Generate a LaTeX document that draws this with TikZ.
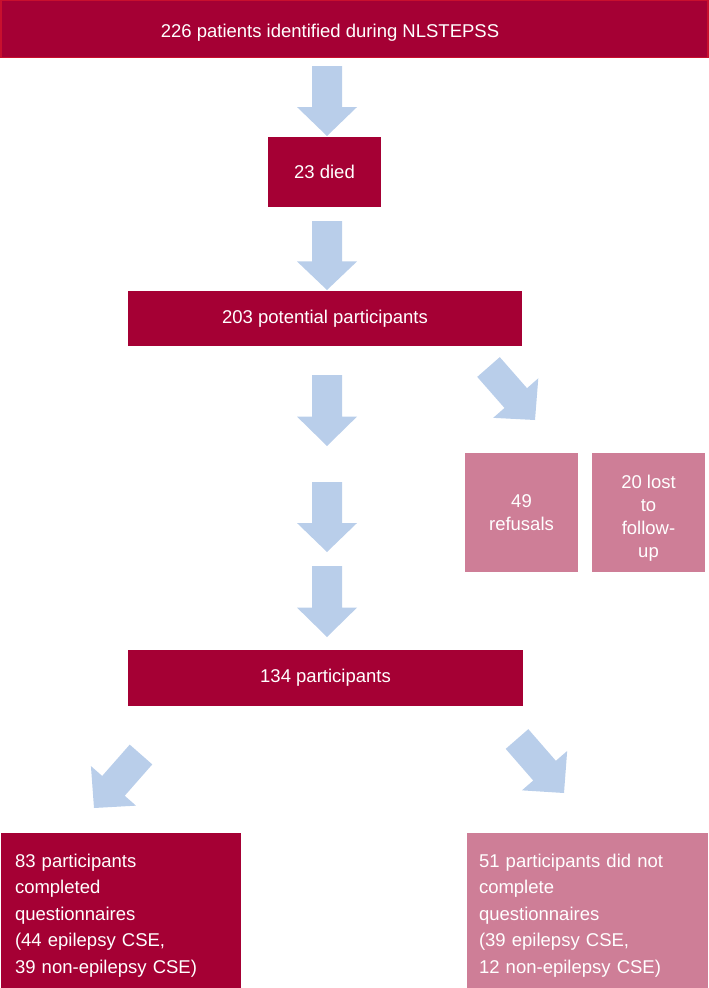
\documentclass[tikz,border=0pt]{standalone}
\usepackage{fontspec}
\setmainfont{Liberation Sans}
\usetikzlibrary{calc}
\definecolor{darkred}{RGB}{165,0,52}
\definecolor{edgered}{RGB}{200,16,46}
\definecolor{pinkc}{RGB}{206,126,151}
\definecolor{arrowblue}{RGB}{185,206,234}
\newcommand{\blockarrow}[2]{%
  \coordinate (hj) at ($(#1)!0.586!(#2)$);
  \fill[arrowblue] ($(#1)!15pt!90:(#2)$) -- ($(hj)!15pt!90:(#2)$) -- ($(hj)!30pt!90:(#2)$) -- (#2)
    -- ($(hj)!30pt!-90:(#2)$) -- ($(hj)!15pt!-90:(#2)$) -- ($(#1)!15pt!-90:(#2)$) -- cycle;}
\begin{document}
\begin{tikzpicture}[x=1pt,y=-1pt,
  every node/.style={inner sep=0pt, outer sep=0pt},
  redbox/.style={fill=darkred, text=white, font=\fontsize{18.5}{26.5}\selectfont, align=center},
  pinkbox/.style={fill=pinkc, text=white, font=\fontsize{18.5}{23}\selectfont, align=center},
  listbox/.style={font=\fontsize{18.5}{26.5}\selectfont, text=white, align=left}]
\useasboundingbox (0,0) rectangle (709,988);

% boxes
\node[redbox, draw=edgered, line width=1.2pt, minimum width=707pt, minimum height=57pt] (top) at (354.5,29) {\hspace*{-49pt}\rule{0pt}{21.5pt}226 patients identified during NLSTEPSS};
\node[redbox, minimum width=113pt, minimum height=70pt] (died) at (324.5,172) {23 died};
\node[redbox, minimum width=394pt, minimum height=55pt] (pot) at (325,318.5) {203 potential participants};
\node[pinkbox, minimum width=113pt, minimum height=119pt] (ref) at (521.5,512.5) {49\\refusals};
\node[pinkbox, minimum width=113pt, minimum height=119pt] (lost) at (648.5,512.5) {\rule{0pt}{25pt}20 lost\\to\\follow-\\up};
\node[redbox, minimum width=395pt, minimum height=56pt] (part) at (325.5,678) {134 participants};
\node[listbox, fill=darkred, text width=212pt, minimum width=240pt, minimum height=165pt] (comp) at (121,915.5)
  {83 participants\\completed\\questionnaires\\(44 epilepsy CSE,\\39 non-epilepsy CSE)};
\node[listbox, fill=pinkc, text width=217pt, minimum width=241pt, minimum height=165pt] (notcomp) at (587.5,915.5)
  {51 participants did not\\complete\\questionnaires\\(39 epilepsy CSE,\\12 non-epilepsy CSE)};

% arrow end points
\coordinate (a1s) at (327,66);   \coordinate (a1e) at (327,136);
\coordinate (a2s) at (327,221);  \coordinate (a2e) at (327,290);
\coordinate (a3s) at (327,375);  \coordinate (a3e) at (327,446);
\coordinate (a4s) at (327,482);  \coordinate (a4e) at (327,552);
\coordinate (a5s) at (327,566);  \coordinate (a5e) at (327,637);
\coordinate (a6s) at (488.5,367); \coordinate (a6e) at (535,420);
\coordinate (a7s) at (141,754.5); \coordinate (a7e) at (94,808);
\coordinate (a8s) at (517,739);  \coordinate (a8e) at (564,793);

\blockarrow{a1s}{a1e}
\blockarrow{a2s}{a2e}
\blockarrow{a3s}{a3e}
\blockarrow{a4s}{a4e}
\blockarrow{a5s}{a5e}
\blockarrow{a6s}{a6e}
\blockarrow{a7s}{a7e}
\blockarrow{a8s}{a8e}
\end{tikzpicture}
\end{document}
